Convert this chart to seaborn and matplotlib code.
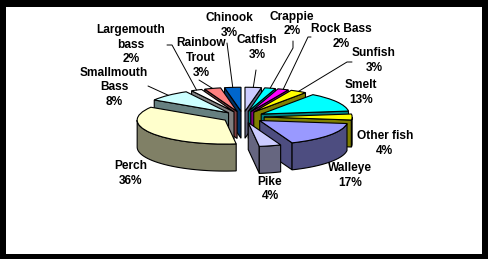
import numpy as np
import matplotlib
matplotlib.use("Agg")
import matplotlib.pyplot as plt
import seaborn as sns

# ---------------- data ----------------
species = ["Catfish", "Crappie", "Rock Bass", "Sunfish", "Smelt", "Other fish",
           "Walleye", "Pike", "Perch", "Smallmouth\nBass", "Largemouth\nbass",
           "Rainbow\nTrout", "Chinook"]
shares = [3, 2, 2, 3, 13, 4, 17, 4, 36, 8, 2, 3, 3]
pct_labels = [f"{v}%" for v in shares]

# ---------------- styles ----------------
top_colors = ["#CCCCFF", "#00FFFF", "#FF00FF", "#FFFF00", "#00FFFF", "#FFFF00",
              "#9999FF", "#CCCCFF", "#FFFFCC", "#CCFFFF", "#FFFFFF", "#FF8080", "#0066CC"]
side_colors = ["#666680", "#008080", "#800080", "#808000", "#008080", "#808000",
               "#4D4D80", "#666680", "#808066", "#668080", "#808080", "#804040", "#003366"]

# ---------------- layout (pixels) ----------------
W, H = 489, 259
CX, CY = 243, 117          # pie centre
RX, RY = 88, 24            # ellipse radii
DEPTH = 27                 # pie thickness
EXPLODE = 0.24
BORDER = dict(left=6, right=7, top=7, bottom=5)

label_pos = [(257, 47.5), (292, 24), (341, 36.5), (374, 60.5), (361, 92.5),
             (385, 143.5), (350, 175.5), (270, 189), (131, 173.5), (114, 87.5),
             (131, 44.5), (201, 58), (229, 25.5)]
# leader-line start points (None = no leader), optional elbow
leader_pts = [[(256, 70)], [(293, 41), (293, 48)], [(311, 37), (308, 37)],
              [(352, 62), (347, 62)], None, None, None, None, None,
              [(148, 86)], [(167, 45), (172, 45)], [(199, 80)], [(227, 43)]]

sns.set_style("white")
plt.rcParams["font.family"] = ["Liberation Sans", "DejaVu Sans"]

fig = plt.figure(figsize=(W / 100, H / 100), dpi=100, facecolor="black")
ax = fig.add_axes([BORDER["left"] / W, BORDER["bottom"] / H,
                   (W - BORDER["left"] - BORDER["right"]) / W,
                   (H - BORDER["top"] - BORDER["bottom"]) / H])

def px2data(px, py):
    return (px - CX) / RX, (CY - py) / RY

depth = DEPTH / RY
vals = np.array(shares, dtype=float)
fr = vals / vals.sum()
a0 = np.concatenate([[0], np.cumsum(fr)[:-1]]) * 360
a1 = np.cumsum(fr) * 360
am = (a0 + a1) / 2

wedges, _ = ax.pie(vals, explode=[EXPLODE] * len(vals), startangle=90,
                   counterclock=False, radius=1, colors=top_colors,
                   wedgeprops=dict(edgecolor="black", linewidth=0.8))

order = np.argsort(-np.cos(np.radians(am)))
lw = 0.8
for rank, i in enumerate(order):
    zb = 2 + 3 * rank
    mx, my = EXPLODE * np.sin(np.radians(am[i])), EXPLODE * np.cos(np.radians(am[i]))
    def rim(a):
        return mx + np.sin(np.radians(a)), my + np.cos(np.radians(a))
    faces = []
    if np.sin(np.radians(a0[i])) < -1e-9:
        faces.append(a0[i])
    if np.sin(np.radians(a1[i])) > 1e-9:
        faces.append(a1[i])
    for a in faces:
        rx_, ry_ = rim(a)
        ax.fill([mx, rx_, rx_, mx], [my, ry_, ry_ - depth, my - depth],
                facecolor=side_colors[i], edgecolor="black", linewidth=lw, zorder=zb)
    lo, hi = max(a0[i], 90), min(a1[i], 270)
    if hi > lo:
        t = np.linspace(lo, hi, 60)
        xs = mx + np.sin(np.radians(t))
        ys = my + np.cos(np.radians(t))
        ax.fill(np.concatenate([xs, xs[::-1]]),
                np.concatenate([ys, ys[::-1] - depth]),
                facecolor=side_colors[i], edgecolor="black", linewidth=lw, zorder=zb + 1)
    wedges[i].set_zorder(zb + 2)

for i in range(len(species)):
    tx, ty = px2data(*label_pos[i])
    ax.text(tx, ty, f"{species[i]}\n{pct_labels[i]}", ha="center", va="center",
            fontsize=8.6, fontweight="bold", linespacing=1.3, color="black", zorder=100)
    if leader_pts[i] is not None:
        mx, my = EXPLODE * np.sin(np.radians(am[i])), EXPLODE * np.cos(np.radians(am[i]))
        ex, ey = mx + np.sin(np.radians(am[i])), my + np.cos(np.radians(am[i]))
        pts = [px2data(*p) for p in leader_pts[i]] + [(ex, ey)]
        ax.plot([p[0] for p in pts], [p[1] for p in pts], color="black",
                linewidth=0.7, zorder=99)

ax.set_aspect("auto")
x0, y0 = px2data(BORDER["left"], H - BORDER["bottom"])
x1, y1 = px2data(W - BORDER["right"], BORDER["top"])
ax.set_xlim(x0, x1)
ax.set_ylim(y0, y1)
ax.set_frame_on(True)
ax.set_facecolor("white")
for s in ax.spines.values():
    s.set_visible(False)
ax.set_xticks([])
ax.set_yticks([])

fig.savefig("out.png", dpi=100, facecolor="black")
